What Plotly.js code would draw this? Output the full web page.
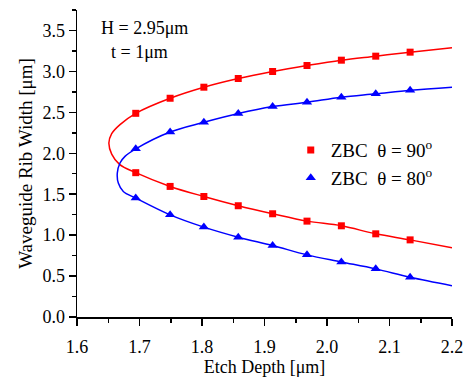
<!DOCTYPE html>
<html>
<head>
<meta charset="utf-8">
<script src="https://cdn.plot.ly/plotly-3.0.1.min.js"></script>
<style>html,body{margin:0;padding:0;background:#fff;}#chart{width:466px;height:377px;}</style>
</head>
<body>
<div id="chart"></div>
<script>
// Etch depths of the simulated points [µm]
var etchDepth = [1.694, 1.749, 1.803, 1.858, 1.913, 1.968, 2.023, 2.078, 2.133];
// ZBC theta = 90 deg (red squares): upper and lower branches
var zbc90Upper = [2.488, 2.672, 2.807, 2.913, 2.999, 3.072, 3.137, 3.186, 3.235];
var zbc90Lower = [1.763, 1.595, 1.472, 1.359, 1.261, 1.171, 1.114, 1.016, 0.942];
// ZBC theta = 80 deg (blue triangles)
var zbc80Upper = [2.054, 2.260, 2.378, 2.485, 2.570, 2.623, 2.684, 2.726, 2.770];
var zbc80Lower = [1.453, 1.248, 1.098, 0.975, 0.873, 0.759, 0.673, 0.588, 0.486];

var fit90NoseX = [1.668, 1.6555, 1.651, 1.6555, 1.6688];
var fit90NoseY = [1.865, 1.990, 2.125, 2.240, 2.350];
var fit80NoseX = [1.6741, 1.6661, 1.6645, 1.6688, 1.6768];
var fit80NoseY = [1.534, 1.636, 1.759, 1.881, 1.962];
// Fitted-curve values at the right edge (etch depth 2.2)
var fitEndX = 2.2;
var fit90EndLower = 0.845, fit90EndUpper = 3.289;
var fit80EndLower = 0.383, fit80EndUpper = 2.807;

var legendNames = ["ZBC\u00a0\u00a0\u03b8 = 90<sup>o</sup>", "ZBC\u00a0\u00a0\u03b8 = 80<sup>o</sup>"];
var noteLines = ["H = 2.95\u03bcm", "t = 1\u03bcm"];

function buildFit(lower, upper, noseX, noseY, endLo, endUp) {
  var x = [fitEndX], y = [endLo];
  for (var i = etchDepth.length - 1; i >= 0; i--) { x.push(etchDepth[i]); y.push(lower[i]); }
  for (var j = 0; j < noseX.length; j++) { x.push(noseX[j]); y.push(noseY[j]); }
  for (var k = 0; k < etchDepth.length; k++) { x.push(etchDepth[k]); y.push(upper[k]); }
  x.push(fitEndX); y.push(endUp);
  return {x: x, y: y};
}
var f90 = buildFit(zbc90Lower, zbc90Upper, fit90NoseX, fit90NoseY, fit90EndLower, fit90EndUpper);
var f80 = buildFit(zbc80Lower, zbc80Upper, fit80NoseX, fit80NoseY, fit80EndLower, fit80EndUpper);

var RED = "#ff0000", BLUE = "#0000ff";
var FONT = "'Liberation Serif', 'Times New Roman', serif";

var traces = [
  {x: f90.x, y: f90.y, mode: "lines", line: {color: RED, width: 1.5, shape: "spline", smoothing: 1}, showlegend: false, hoverinfo: "skip"},
  {x: f80.x, y: f80.y, mode: "lines", line: {color: BLUE, width: 1.5, shape: "spline", smoothing: 1}, showlegend: false, hoverinfo: "skip"},
  {x: etchDepth.concat(etchDepth), y: zbc90Upper.concat(zbc90Lower), mode: "markers", name: legendNames[0],
   marker: {symbol: "square", size: 7, color: RED}},
  {x: etchDepth.concat(etchDepth), y: zbc80Upper.concat(zbc80Lower), mode: "markers", name: legendNames[1],
   marker: {symbol: "triangle-up", size: 9, color: BLUE}}
];

var axisCommon = {
  showgrid: false, zeroline: false, showline: true, linecolor: "#000", linewidth: 1.5,
  ticks: "outside", ticklen: 7, tickwidth: 1.5, tickcolor: "#000",
  tickfont: {family: FONT, size: 18, color: "#000"}, tickformat: ".1f"
};

var layout = {
  width: 466, height: 377,
  margin: {l: 77, r: 14, t: 10, b: 60},
  paper_bgcolor: "#fff", plot_bgcolor: "#fff",
  font: {family: FONT, size: 18, color: "#000"},
  xaxis: Object.assign({}, axisCommon, {
    range: [1.6, 2.2], dtick: 0.1, tick0: 1.6, ticklabelstandoff: 6,
    minor: {dtick: 0.05, ticks: "outside", ticklen: 4, tickwidth: 1.5, tickcolor: "#000", showgrid: false},
    title: {text: "Etch Depth [\u03bcm]", font: {family: FONT, size: 18}, standoff: 12}
  }),
  yaxis: Object.assign({}, axisCommon, {
    range: [0, 3.75], dtick: 0.5, tick0: 0,
    minor: {dtick: 0.25, ticks: "outside", ticklen: 4, tickwidth: 1.5, tickcolor: "#000", showgrid: false},
    title: {text: "Waveguide Rib Width [\u03bcm]", font: {family: FONT, size: 19}, standoff: 5}
  }),
  legend: {x: 0.57, y: 0.498, xanchor: "left", yanchor: "middle", bgcolor: "rgba(0,0,0,0)",
           font: {family: FONT, size: 19}, tracegroupgap: 0},
  annotations: [
    {xref: "paper", yref: "paper", x: 0.058, y: 0.941, xanchor: "left", yanchor: "middle", showarrow: false,
     text: noteLines[0], font: {family: FONT, size: 18}},
    {xref: "paper", yref: "paper", x: 0.085, y: 0.863, xanchor: "left", yanchor: "middle", showarrow: false,
     text: noteLines[1], font: {family: FONT, size: 18}}
  ]
};

Plotly.newPlot("chart", traces, layout, {displayModeBar: false, staticPlot: true});
</script>
</body>
</html>
